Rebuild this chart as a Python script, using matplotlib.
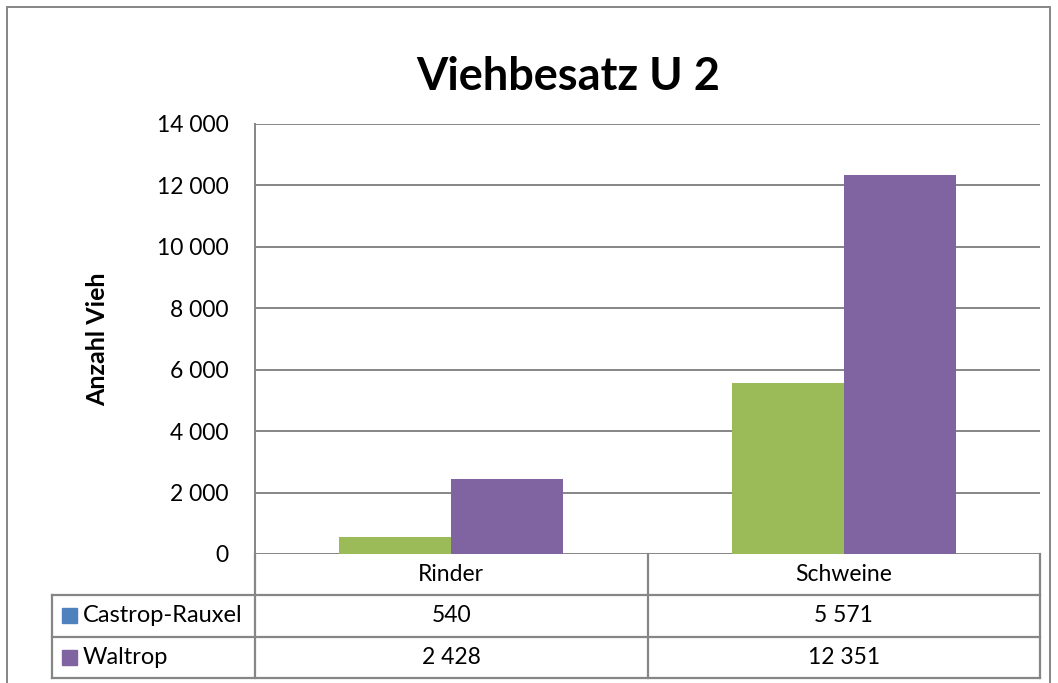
import numpy as np
import matplotlib
matplotlib.use("Agg")
import matplotlib.pyplot as plt
from matplotlib.patches import Rectangle

plt.rcParams['font.family'] = ['Lato', 'DejaVu Sans']

categories = ["Rinder", "Schweine"]
series = ["Castrop-Rauxel", "Waltrop"]
castrop = [540, 5571]
waltrop = [2428, 12351]
yticks = [0, 2000, 4000, 6000, 8000, 10000, 12000, 14000]

bar_colors = ["#9BBB59", "#8064A2"]
key_colors = ["#4F81BD", "#8064A2"]   # legend key of Castrop is blue in the original
grid_c = "#868686"
fs = 16.5

def fmt(v):
    return f"{v:,}".replace(",", " ")

fig = plt.figure(figsize=(10.58, 6.83), dpi=100)
ax = fig.add_axes([255/1058, 1-554/683, 785/1058, 430/683])

x = np.arange(len(categories))
w = 1/3.5
ax.bar(x - w/2, castrop, w, color=bar_colors[0], zorder=2)
ax.bar(x + w/2, waltrop, w, color=bar_colors[1], zorder=2)
ax.set_xlim(-0.5, len(categories) - 0.5)
ax.set_ylim(0, 14000)
ax.set_yticks(yticks)
ax.set_yticklabels([fmt(v) for v in yticks], fontsize=fs)
ax.set_xticks([])
ax.grid(axis="y", color=grid_c, lw=1.4, zorder=0)
for s in ["top", "right", "bottom"]:
    ax.spines[s].set_visible(False)
ax.spines["left"].set_color(grid_c); ax.spines["left"].set_linewidth(1.4)
ax.tick_params(axis="y", length=0, pad=19)
fig.text(98/1058, 1-339/683, "Anzahl Vieh", fontsize=18, fontweight="bold",
         rotation=90, ha="center", va="center")
fig.text(568/1058, 1-77/683, "Viehbesatz U 2", fontsize=32.5, fontweight="bold",
         ha="center", va="center")

# data table below the axes (x in category units, y in axes fraction)
rows = [castrop, waltrop]
row_h = 41.3/430
x_left = -0.5 - 203/392.5
tr = ax.get_xaxis_transform()
kw = dict(transform=tr, clip_on=False, color=grid_c, lw=1.6)
for i, c in enumerate(categories):
    ax.text(i, -row_h/2, c, transform=tr, ha="center", va="center", fontsize=fs)
for xb in [-0.5, 0.5, 1.5]:
    ax.plot([xb, xb], [0, -3*row_h], **kw)
for k in [1, 2, 3]:
    ax.plot([x_left, 1.5], [-k*row_h, -k*row_h], **kw)
ax.plot([x_left, x_left], [-row_h, -3*row_h], **kw)
for r, (name, vals) in enumerate(zip(series, rows)):
    yc = -(r + 1.5)*row_h
    ax.add_patch(Rectangle((x_left + 10/392.5, yc - 7.5/430), 15/392.5, 15/430,
                           transform=tr, clip_on=False, color=key_colors[r]))
    ax.text(x_left + 31/392.5, yc, name, transform=tr, ha="left", va="center", fontsize=17)
    for i, v in enumerate(vals):
        ax.text(i, yc, fmt(v), transform=tr, ha="center", va="center", fontsize=fs)

# outer chart border
fig.add_artist(Rectangle((7/1058, -0.05), 1043/1058, 1-7/683+0.05, transform=fig.transFigure,
                         fill=False, ec=grid_c, lw=1.4))

fig.savefig("out.png", dpi=100)
